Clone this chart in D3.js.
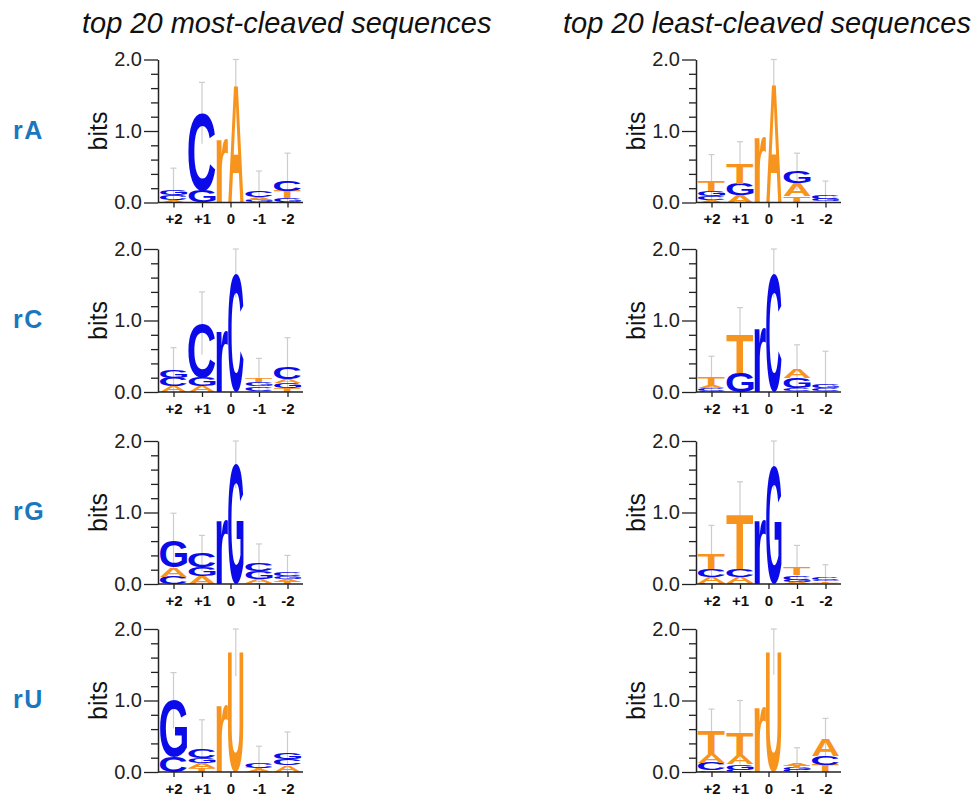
<!DOCTYPE html>
<html>
<head>
<meta charset="utf-8">
<script src="https://cdn.jsdelivr.net/npm/d3@7"></script>
<style>
body { margin: 0; background: #fff; }
svg text { font-family: "Liberation Sans", Arial, Helvetica, sans-serif; }
</style>
</head>
<body>
<script>
// positions along the sequence, row (ribonucleotide) names, column titles
var positions = ["+2", "+1", "0", "-1", "-2"];
var rowNames = ["rA", "rC", "rG", "rU"];
var titles = ["top 20 most-cleaved sequences", "top 20 least-cleaved sequences"];
var yMajor = [0, 1, 2];
var yMinor = [0.2, 0.4, 0.6, 0.8, 1.2, 1.4, 1.6, 1.8];

// stacks: bottom -> top, [letter, bits]; middle position is "r" + base side by side
var mostA = [
  [["A", 0.03], ["C", 0.07], ["G", 0.08]],
  [["G", 0.16], ["C", 1.09]],
  [["r", 0.90], ["A", 1.66]],
  [["G", 0.03], ["A", 0.04], ["C", 0.09]],
  [["G", 0.06], ["T", 0.10], ["C", 0.15]]
];
var mostAErr = [0.48, 1.68, 2.0, 0.44, 0.69];

var leastA = [
  [["A", 0.03], ["C", 0.06], ["G", 0.07], ["T", 0.14]],
  [["A", 0.10], ["G", 0.16], ["T", 0.28]],
  [["r", 0.92], ["A", 1.67]],
  [["T", 0.09], ["A", 0.18], ["G", 0.16]],
  [["A", 0.02], ["G", 0.03], ["C", 0.05]]
];
var leastAErr = [0.67, 0.85, 2.0, 0.69, 0.30];

var mostC = [
  [["A", 0.08], ["C", 0.12], ["G", 0.11]],
  [["A", 0.08], ["G", 0.12], ["C", 0.76]],
  [["r", 0.85], ["C", 1.66]],
  [["A", 0.02], ["C", 0.06], ["G", 0.06], ["T", 0.06]],
  [["T", 0.05], ["G", 0.07], ["A", 0.06], ["C", 0.17]]
];
var mostCErr = [0.62, 1.40, 2.0, 0.47, 0.76];

var leastC = [
  [["G", 0.02], ["C", 0.03], ["A", 0.04], ["T", 0.12]],
  [["G", 0.27], ["T", 0.54]],
  [["r", 0.90], ["C", 1.66]],
  [["T", 0.02], ["C", 0.04], ["G", 0.14], ["A", 0.13]],
  [["T", 0.02], ["C", 0.04], ["G", 0.06]]
];
var leastCErr = [0.50, 1.18, 2.0, 0.66, 0.57];

var mostG = [
  [["C", 0.10], ["A", 0.13], ["G", 0.36]],
  [["A", 0.11], ["G", 0.12], ["C", 0.20]],
  [["r", 0.89], ["G", 1.67]],
  [["T", 0.02], ["A", 0.05], ["G", 0.11], ["C", 0.11]],
  [["T", 0.03], ["A", 0.04], ["G", 0.04], ["C", 0.05]]
];
var mostGErr = [0.99, 0.68, 2.0, 0.56, 0.40];

var leastG = [
  [["G", 0.02], ["A", 0.08], ["C", 0.11], ["T", 0.22]],
  [["G", 0.02], ["A", 0.08], ["C", 0.11], ["T", 0.76]],
  [["r", 0.90], ["G", 1.66]],
  [["A", 0.03], ["G", 0.03], ["C", 0.06], ["T", 0.11]],
  [["A", 0.02], ["T", 0.02], ["G", 0.02], ["C", 0.03]]
];
var leastGErr = [0.82, 1.43, 2.0, 0.54, 0.27];

var mostU = [
  [["C", 0.21], ["G", 0.79]],
  [["T", 0.05], ["A", 0.07], ["G", 0.07], ["C", 0.12]],
  [["r", 0.94], ["U", 1.67]],
  [["A", 0.03], ["T", 0.03], ["C", 0.07]],
  [["A", 0.09], ["C", 0.09], ["G", 0.09]]
];
var mostUErr = [1.39, 0.73, 2.0, 0.36, 0.56];

var leastU = [
  [["G", 0.02], ["C", 0.10], ["A", 0.13], ["T", 0.32]],
  [["C", 0.03], ["G", 0.08], ["A", 0.13], ["T", 0.31]],
  [["r", 0.91], ["U", 1.68]],
  [["C", 0.03], ["G", 0.03], ["T", 0.03], ["A", 0.03]],
  [["T", 0.10], ["C", 0.13], ["A", 0.24]]
];
var leastUErr = [0.88, 1.00, 2.0, 0.34, 0.75];

var panelData = [[mostA, leastA], [mostC, leastC], [mostG, leastG], [mostU, leastU]];
var panelErr = [[mostAErr, leastAErr], [mostCErr, leastCErr], [mostGErr, leastGErr], [mostUErr, leastUErr]];

// layout
var width = 979, height = 801;
var axisX = [158, 696];
var baselines = [202.5, 392, 584, 772];
var plotH = 143;
var axisLen = 145;
var colors = { A: "#f7941d", T: "#f7941d", U: "#f7941d", C: "#0b0bea", G: "#0b0bea" };

var svg = d3.select("body").append("svg")
    .attr("width", width)
    .attr("height", height);

// tight glyph bounds via canvas, so stretched letters fill their box
var canvas = document.createElement("canvas");
var ctx = canvas.getContext("2d");
ctx.font = "bold 100px 'Liberation Sans'";
function glyphBox(ch) {
    var m = ctx.measureText(ch);
    return { left: -m.actualBoundingBoxLeft, right: m.actualBoundingBoxRight,
             top: -m.actualBoundingBoxAscent, bottom: m.actualBoundingBoxDescent };
}

function drawLetter(g, ch, x0, x1, yTop, yBottom, color) {
    if (yBottom - yTop < 0.4) return;
    var b = glyphBox(ch);
    var sx = (x1 - x0) / (b.right - b.left);
    var sy = (yBottom - yTop) / (b.bottom - b.top);
    g.append("text")
        .text(ch)
        .attr("font-size", 100)
        .attr("font-weight", "bold")
        .attr("fill", color)
        .attr("transform", "translate(" + x0 + "," + yTop + ") scale(" + sx + "," + sy + ") translate(" + (-b.left) + "," + (-b.top) + ")");
}

function errorBar(g, cx, y, top, errTop) {
    var lo = Math.max(0, 2 * top - errTop);
    g.append("line")
        .attr("x1", cx).attr("x2", cx)
        .attr("y1", y(lo)).attr("y2", y(errTop))
        .attr("stroke", "#cdcdcd").attr("stroke-width", 1.2);
    g.append("line")
        .attr("x1", cx - 3).attr("x2", cx + 3)
        .attr("y1", y(errTop)).attr("y2", y(errTop))
        .attr("stroke", "#cdcdcd").attr("stroke-width", 1.2);
}

// column titles
svg.selectAll(".title")
    .data(titles)
    .enter().append("text")
    .attr("class", "title")
    .attr("x", function(d, i) { return [82, 563][i]; })
    .attr("y", 33)
    .attr("font-size", 29)
    .attr("font-style", "italic")
    .attr("fill", "#111")
    .text(function(d) { return d; });

// row labels
svg.selectAll(".rowlabel")
    .data(rowNames)
    .enter().append("text")
    .attr("class", "rowlabel")
    .attr("x", 13)
    .attr("y", function(d, i) { return baselines[i] - 64; })
    .attr("font-size", 25)
    .attr("font-weight", "bold")
    .attr("letter-spacing", 1.5)
    .attr("fill", "#1b77bd")
    .text(function(d) { return d; });

for (let r = 0; r < rowNames.length; ++r) {
    for (let c = 0; c < 2; ++c) {
        let x0 = axisX[c];
        let base = baselines[r];
        let y = d3.scaleLinear().domain([0, 2]).range([base, base - plotH]);
        let x = d3.scalePoint().domain(positions).range([x0 + 15.5, x0 + 129.5]);
        let g = svg.append("g").attr("class", "panel");

        let stacks = panelData[r][c];
        let errs = panelErr[r][c];

        // error bars behind the letters
        stacks.forEach(function(stack, i) {
            let cx = x(positions[i]);
            if (positions[i] === "0") {
                let bx0 = cx - 14 + 27 * 0.43;
                errorBar(g, (bx0 + cx + 13) / 2, y, stack[1][1], errs[i]);
            } else {
                let top = d3.sum(stack, function(s) { return s[1]; });
                errorBar(g, cx, y, top, errs[i]);
            }
        });

        // letters
        stacks.forEach(function(stack, i) {
            let cx = x(positions[i]);
            if (positions[i] === "0") {
                let left = cx - 14, right = cx + 13;
                let mid = left + (right - left) * 0.43;
                let baseColor = colors[stack[1][0]];
                drawLetter(g, "r", left, mid, y(stack[0][1]), y(0), baseColor);
                drawLetter(g, stack[1][0], mid, right, y(stack[1][1]), y(0), colors[stack[1][0]]);
            } else {
                let acc = 0;
                stack.forEach(function(s) {
                    drawLetter(g, s[0], cx - 13.5, cx + 13.5, y(acc + s[1]), y(acc), colors[s[0]]);
                    acc += s[1];
                });
            }
        });

        // y axis: minor and major ticks
        let minorAxis = d3.axisLeft(y).tickValues(yMinor).tickSize(7).tickFormat("");
        let majorAxis = d3.axisLeft(y).tickValues(yMajor).tickSize(14).tickPadding(2).tickFormat(d3.format(".1f"));
        g.append("g").attr("transform", "translate(" + x0 + ",0)").call(minorAxis)
            .call(function(a) { a.select(".domain").remove(); });
        g.append("g").attr("class", "yaxis").attr("transform", "translate(" + x0 + ",0)").call(majorAxis.tickSizeOuter(0))
            .call(function(a) { a.selectAll("text").attr("font-size", 20).attr("fill", "#222"); });

        // x axis
        let xAxis = d3.axisBottom(x).tickSize(5).tickPadding(6);
        g.append("g").attr("transform", "translate(0," + base + ")").call(xAxis)
            .call(function(a) {
                a.select(".domain").remove();
                a.selectAll("text").attr("font-size", 15).attr("font-weight", "bold").attr("fill", "#111");
            });
        g.append("line")
            .attr("x1", x0).attr("x2", x0 + axisLen)
            .attr("y1", base).attr("y2", base)
            .attr("stroke", "#222").attr("stroke-width", 1.5);

        g.selectAll(".tick line").attr("stroke", "#222").attr("stroke-width", 1.3);
        g.selectAll(".domain").attr("stroke", "#222").attr("stroke-width", 1.5);

        // axis title
        g.append("text")
            .attr("transform", "translate(" + (x0 - 51) + "," + (base - plotH / 2) + ") rotate(-90)")
            .attr("text-anchor", "middle")
            .attr("font-size", 25)
            .attr("fill", "#111")
            .text("bits");
    }
}
</script>
</body>
</html>
